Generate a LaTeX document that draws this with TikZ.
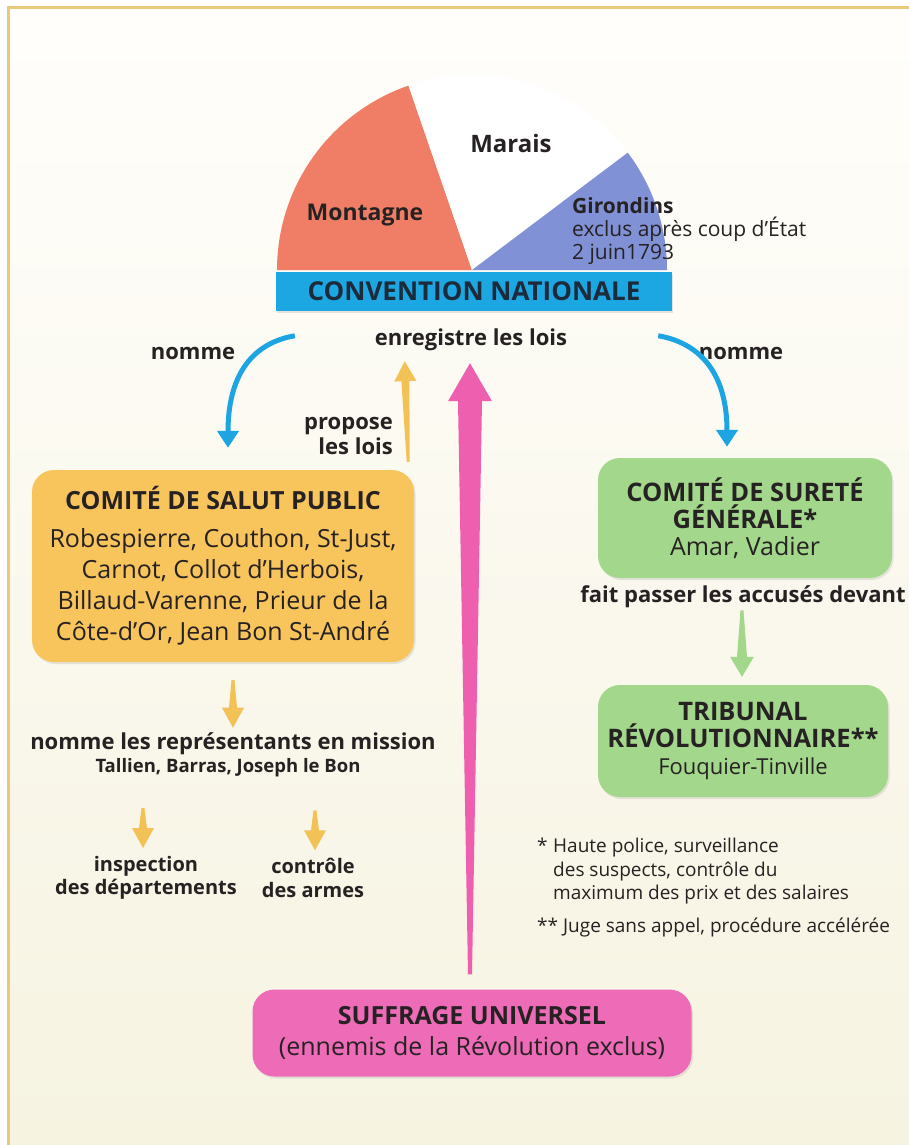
\documentclass[tikz,border=0pt]{standalone}
\usepackage{fontspec}
\setmainfont{Open Sans}
\usetikzlibrary{arrows.meta,calc,shadows}

\definecolor{cadre}{HTML}{E9C97A}
\definecolor{fondhaut}{HTML}{FFFEFB}
\definecolor{fondbas}{HTML}{F6F3E1}
\definecolor{montagne}{HTML}{F07E66}
\definecolor{girondins}{HTML}{8191D6}
\definecolor{convention}{HTML}{1DA7E2}
\definecolor{bleu}{HTML}{1CA4E3}
\definecolor{jaune}{HTML}{F8C45C}
\definecolor{jaunef}{HTML}{F3C257}
\definecolor{vert}{HTML}{A3D78B}
\definecolor{rose}{HTML}{EE6BB7}
\definecolor{rosef}{HTML}{EF5FAF}
\definecolor{encre}{HTML}{262223}
\definecolor{marine}{HTML}{1C2A3A}

\newcommand{\titre}{\fontsize{25}{29}\selectfont\bfseries}
\newcommand{\titrev}{\fontsize{25.5}{27}\selectfont\bfseries}
\newcommand{\noms}{\fontsize{25}{31}\selectfont}
\newcommand{\petit}{\fontsize{19}{23.5}\selectfont}

\tikzset{
  boite/.style={rounded corners=22pt, align=center, text=encre, inner sep=0pt,
    font=\noms, drop shadow={opacity=0.18, shadow xshift=1.5pt, shadow yshift=-2pt}},
  etiq/.style={font=\fontsize{22}{25}\selectfont\bfseries, text=encre, align=center, inner sep=0pt},
  parti/.style={font=\fontsize{23}{26}\selectfont\bfseries, text=encre, inner sep=0pt},
  note/.style={font=\petit, text=encre, align=left, inner sep=0pt},
  fbleu/.style={bleu, line width=5pt, -{Triangle[width=21pt,length=17pt]}}
}

% fleche effilee : couleur, queue, pointe, demi-largeurs queue/tige/tete, longueur tete
\newcommand{\fleche}[7]{%
  \path ($(#3)!#7!(#2)$) coordinate (fb);
  \fill[#1] ($(#2)!#4!90:(#3)$) -- ($(fb)!#5!90:(#3)$) -- ($(fb)!#6!90:(#3)$) -- (#3)
    -- ($(fb)!#6!-90:(#3)$) -- ($(fb)!#5!-90:(#3)$) -- ($(#2)!#4!-90:(#3)$) -- cycle;}

\begin{document}
\begin{tikzpicture}[x=1pt,y=-1pt]
\useasboundingbox (0,0) rectangle (909,1145);
\fill[white] (0,0) rectangle (909,1145);
\shade[top color=fondhaut, bottom color=fondbas] (8,8) rectangle (909,1145);
\draw[cadre, line width=3pt] (8,1145) -- (8,8) -- (909,8);

% la Convention
\coordinate (c) at (472,270);
\fill[montagne] (c) -- ++(180:195pt) arc[start angle=180, end angle=109, radius=195pt] -- cycle;
\fill[white] (c) -- ++(109:195pt) arc[start angle=109, end angle=37, radius=195pt] -- cycle;
\fill[girondins] (c) -- ++(37:195pt) arc[start angle=37, end angle=0, radius=195pt] -- cycle;
\node[parti] (mont) at (365,215) {Montagne};
\node[parti, font=\fontsize{24}{26}\selectfont\bfseries] (marais) at (511,143) {Marais};
\node[note, anchor=west, font=\fontsize{21}{23}\selectfont] (girond) at (572,231)
  {{\bfseries Girondins}\\exclus après coup d’État\\2 juin1793};
\node[fill=convention, text=marine, font=\fontsize{26}{29}\selectfont\bfseries,
  minimum width=396pt, minimum height=39pt,
  inner sep=0pt, drop shadow={opacity=0.2, shadow xshift=1pt, shadow yshift=-2pt}] (conv) at (474,291)
  {CONVENTION NATIONALE};

\node[etiq] (enreg) at (471,340) {enregistre les lois};
\node[etiq] (nommeg) at (193,353) {nomme};
\node[etiq] (nommed) at (741,353) {nomme};
\node[etiq, align=right, anchor=east] (propose) at (393,436) {propose\\les lois};

% les comites
\node[boite, fill=jaune, minimum width=382pt, minimum height=192pt] (csp) at (223,566)
  {{\titre COMITÉ DE SALUT PUBLIC}\\[7pt]
   Robespierre, Couthon, St-Just,\\Carnot, Collot d'Herbois,\\Billaud-Varenne, Prieur de la\\Côte-d’Or, Jean Bon St-André};
\node[boite, fill=vert, minimum width=294pt, minimum height=120pt, font=\titrev] (csg) at (745,518)
  {COMITÉ DE SURETÉ\\GÉNÉRALE*\\{\mdseries\fontsize{25}{27}\selectfont Amar, Vadier}};
\node[etiq] (fait) at (743,597) {fait passer les accusés devant};
\node[boite, fill=vert, minimum width=290pt, minimum height=112pt, font=\titrev] (trib) at (743,741)
  {TRIBUNAL\\RÉVOLUTIONNAIRE**\\{\mdseries\fontsize{22}{29}\selectfont Fouquier-Tinville}};

% representants en mission
\node[etiq] (rep) at (233,744) {nomme les représentants en mission};
\node[note, font=\fontsize{18.5}{20}\selectfont\bfseries] (tallien) at (228,768) {Tallien, Barras, Joseph le Bon};
\node[etiq, font=\fontsize{20}{23.5}\selectfont\bfseries] (insp) at (146,878) {inspection\\des départements};
\node[etiq, font=\fontsize{20}{23.5}\selectfont\bfseries] (ctrl) at (313,878) {contrôle\\des armes};

% notes
\node[note, anchor=north west] (note1) at (537,838)
  {\makebox[16pt][l]{*}Haute police, surveillance\\
   \hspace*{16pt}des suspects, contrôle du\\
   \hspace*{16pt}maximum des prix et des salaires};
\node[note, anchor=west] (note2) at (537,927) {** Juge sans appel, procédure accélérée};

\node[boite, fill=rose, minimum width=439pt, minimum height=87pt] (suff) at (472,1033)
  {{\titre SUFFRAGE UNIVERSEL}\\(ennemis de la Révolution exclus)};

% fleches
\coordinate (bg1) at ($(conv.south west)+(19,25)$);
\coordinate (bg2) at ($(csp.north)+(5,-22)$);
\coordinate (bd1) at ($(conv.south east)+(-14,25)$);
\coordinate (bd2) at ($(csg.north)+(-18,-11)$);
\draw[fbleu] (bg1) .. controls +(-45,8) and +(0,-70) .. (bg2);
\draw[fbleu] (bd1) .. controls +(45,8) and +(0,-70) .. (bd2);

\coordinate (p1) at ($(suff.north)+(-2,-15)$);
\coordinate (p2) at ($(enreg.south)+(-1,12)$);
\fleche{rosef}{p1}{p2}{2pt}{12pt}{22pt}{38pt}
\coordinate (y1) at ($(csp.north east)+(-6,-8)$);
\coordinate (y2) at ($(enreg.south west)+(30,10)$);
\fleche{jaunef}{y1}{y2}{1.5pt}{4pt}{11pt}{20pt}
\coordinate (y3) at ($(csp.south)+(10,18)$);
\coordinate (y4) at ($(rep.north)+(0,-5)$);
\fleche{jaunef}{y3}{y4}{1.5pt}{4pt}{11pt}{20pt}
\coordinate (y5) at ($(insp.north)+(-3,-48)$);
\coordinate (y6) at ($(insp.north)+(-3,-8)$);
\fleche{jaunef}{y5}{y6}{1.5pt}{4pt}{11pt}{20pt}
\coordinate (y7) at ($(ctrl.north)+(2,-48)$);
\coordinate (y8) at ($(ctrl.north)+(2,-8)$);
\fleche{jaunef}{y7}{y8}{1.5pt}{4pt}{11pt}{20pt}
\coordinate (v1) at ($(fait.south)+(-1,2)$);
\coordinate (v2) at ($(trib.north)+(-1,-8)$);
\fleche{vert}{v1}{v2}{1.5pt}{5pt}{12pt}{20pt}
\end{tikzpicture}
\end{document}
